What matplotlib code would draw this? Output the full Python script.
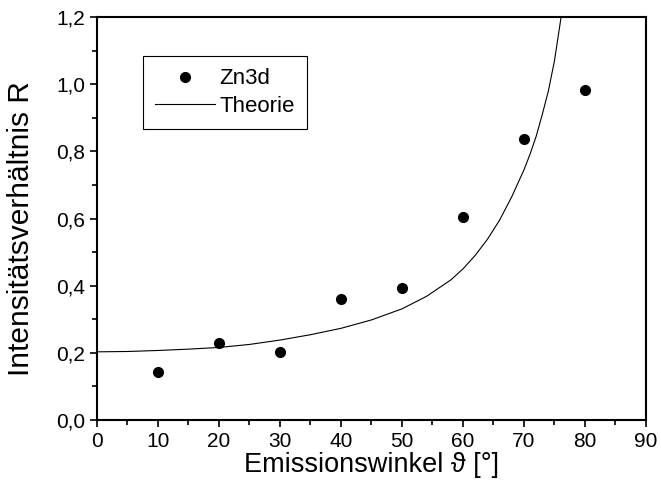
import matplotlib.pyplot as plt
from matplotlib.ticker import MultipleLocator, FuncFormatter

# measured points
winkel = [10, 20, 30, 40, 50, 60, 70, 80]
zn3d = [0.143, 0.229, 0.202, 0.360, 0.393, 0.604, 0.836, 0.982]

# theory curve
theo_winkel = [0, 5, 10, 15, 20, 25, 30, 35, 40, 45, 50, 54, 58, 60, 62, 64,
               66, 68, 70, 71, 72, 73, 74, 75, 76, 76.3]
theo_r = [0.203, 0.204, 0.207, 0.211, 0.216, 0.225, 0.238, 0.254, 0.273, 0.298,
          0.331, 0.368, 0.417, 0.450, 0.490, 0.538, 0.595, 0.665, 0.745, 0.792,
          0.845, 0.910, 0.980, 1.070, 1.190, 1.230]

plt.rcParams["font.family"] = ["Liberation Sans", "DejaVu Sans"]

fig = plt.figure(figsize=(6.61, 4.86), dpi=100)
ax = fig.add_axes([0.1467, 0.1358, 0.8306, 0.8292])

ax.plot(winkel, zn3d, "o", color="black", markersize=7, label="Zn3d")
ax.plot(theo_winkel, theo_r, "-", color="black", linewidth=0.8, label="Theorie")

ax.set_xlim(0, 90)
ax.set_ylim(0, 1.2)
ax.xaxis.set_major_locator(MultipleLocator(10))
ax.xaxis.set_minor_locator(MultipleLocator(5))
ax.yaxis.set_major_locator(MultipleLocator(0.2))
ax.yaxis.set_minor_locator(MultipleLocator(0.1))
ax.yaxis.set_major_formatter(FuncFormatter(lambda v, p: f"{v:.1f}".replace(".", ",")))

for s in ax.spines.values():
    s.set_linewidth(1.5)
ax.tick_params(which="major", direction="out", length=5, width=1.2, labelsize=15)
ax.tick_params(which="minor", direction="out", length=3.5, width=1.2)

ax.set_xlabel("Emissionswinkel ϑ [°]", fontsize=19.5, labelpad=1)
ax.set_ylabel("Intensitätsverhältnis R", fontsize=21.5)
ax.yaxis.set_label_coords(-0.112, 0.476)

leg = ax.legend(loc="upper left", bbox_to_anchor=(0.0838, 0.903), fontsize=16,
                fancybox=False, framealpha=1, edgecolor="black",
                handlelength=2.7, handletextpad=0.2, borderpad=0.55,
                labelspacing=0.3, borderaxespad=0)
leg.get_frame().set_linewidth(0.8)

plt.savefig("out.png", dpi=100)
